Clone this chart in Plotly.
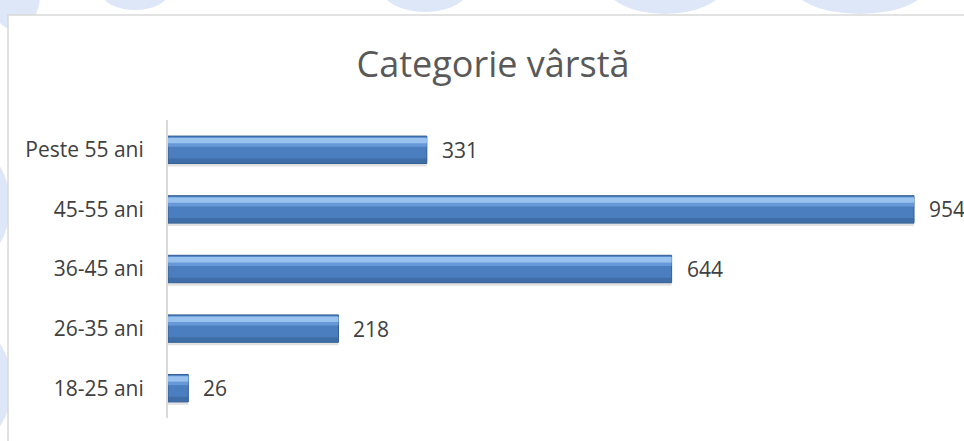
import plotly.graph_objects as go

categories = ["18-25 ani", "26-35 ani", "36-45 ani", "45-55 ani", "Peste 55 ani"]
values = [26, 218, 644, 954, 331]
title_text = "Categorie vârstă"

W, H = 964, 441
L, R, T, B = 168, 14, 120, 23
pw = W - L - R
ph = H - T - B

def px2x(px):
    return (px - L) / pw

def px2y(py):
    return (H - B - py) / ph

fig = go.Figure()

# shadow
fig.add_trace(go.Bar(
    y=categories, x=values, orientation="h", width=0.46, offset=-0.28,
    marker=dict(color="rgba(120,120,120,0.22)", line=dict(width=0)),
    hoverinfo="skip", showlegend=False))
# base bar
fig.add_trace(go.Bar(
    y=categories, x=values, orientation="h", width=0.46, offset=-0.23,
    marker=dict(color="#4a7ebf", line=dict(color="#345f94", width=1)),
    showlegend=False))
# upper highlight (two-step gradient)
fig.add_trace(go.Bar(
    y=categories, x=values, orientation="h", width=0.16, offset=0.05,
    marker=dict(color="rgba(110,160,222,0.8)", line=dict(width=0)),
    hoverinfo="skip", showlegend=False))
fig.add_trace(go.Bar(
    y=categories, x=values, orientation="h", width=0.09, offset=0.11,
    marker=dict(color="rgba(160,198,242,0.9)", line=dict(width=0)),
    hoverinfo="skip", showlegend=False))
# bottom darker band
fig.add_trace(go.Bar(
    y=categories, x=values, orientation="h", width=0.08, offset=-0.225,
    marker=dict(color="rgba(52,95,150,0.55)", line=dict(width=0)),
    hoverinfo="skip", showlegend=False))

for c, v in zip(categories, values):
    fig.add_annotation(x=v, y=c, text=str(v), showarrow=False, xanchor="left",
                       xshift=13, font=dict(family="Open Sans, sans-serif", size=21, color="#404040"))

shapes = []
wm = "#dde7f7"
circles = [(-10, -40, 40, 30), (100, -30, 170, 10), (380, -40, 470, 12), (600, -60, 730, 14),
           (790, -50, 930, 14), (-60, 150, 10, 260), (-60, 330, 12, 440)]
for x0, y0, x1, y1 in circles:
    shapes.append(dict(type="circle", xref="paper", yref="paper", layer="below",
                       x0=px2x(x0), x1=px2x(x1), y0=px2y(y1), y1=px2y(y0),
                       fillcolor=wm, line=dict(width=0)))
# panel
shapes.append(dict(type="rect", xref="paper", yref="paper", layer="below",
                   x0=px2x(8), x1=px2x(1000), y0=px2y(480), y1=px2y(15),
                   fillcolor="white", line=dict(color="#d9d9d9", width=1.5)))

fig.update_layout(
    width=W, height=H,
    margin=dict(l=L, r=R, t=T, b=B),
    paper_bgcolor="white", plot_bgcolor="rgba(0,0,0,0)",
    barmode="overlay",
    title=dict(text=title_text, x=px2x(493), xref="paper", xanchor="center",
               y=1 - 64 / H, yanchor="middle",
               font=dict(family="Open Sans, sans-serif", size=36, color="#595959")),
    xaxis=dict(range=[0, 1000], visible=False, showgrid=False, zeroline=False, fixedrange=True),
    yaxis=dict(type="category", categoryorder="array", categoryarray=categories,
               range=[-0.5, 4.5], showline=True, linecolor="#d9d9d9", linewidth=2,
               ticks="", ticklen=0, ticklabelstandoff=18, showgrid=False, fixedrange=True,
               tickfont=dict(family="Open Sans, sans-serif", size=21, color="#404040")),
    shapes=shapes,
    font=dict(family="Open Sans, sans-serif"),
)
fig.update_traces(cliponaxis=False)

fig.write_html("out.html", config={"displayModeBar": False},
               post_script="document.body.style.margin='0px';document.body.style.overflow='hidden';")
